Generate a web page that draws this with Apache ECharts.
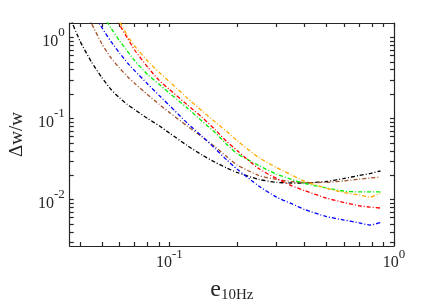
<!DOCTYPE html>
<html>
<head>
<meta charset="utf-8">
<script src="https://cdn.jsdelivr.net/npm/echarts@6/dist/echarts.min.js"></script>
<style>
html,body{margin:0;padding:0;background:#fff;}
#chart{width:436px;height:308px;}
</style>
</head>
<body>
<div id="chart"></div>
<script>
// e_10Hz sample positions (shared by all curves)
var eValues = [0.036, 0.04, 0.045, 0.05, 0.055, 0.06, 0.065, 0.07, 0.08, 0.09, 0.1, 0.12, 0.14, 0.16, 0.18, 0.2, 0.25, 0.3, 0.35, 0.4, 0.5, 0.6, 0.7, 0.78, 0.87];
// Δw/w for each curve
var blackDw  = [1.79, 0.905, 0.498, 0.321, 0.228, 0.180, 0.149, 0.129, 0.100, 0.0815, 0.0662, 0.0464, 0.0354, 0.0288, 0.0245, 0.0216, 0.0177, 0.0163, 0.0160, 0.0160, 0.0167, 0.0182, 0.0198, 0.0209, 0.0225];
var brownDw  = [null, 2.9, 1.49, 0.838, 0.558, 0.418, 0.330, 0.272, 0.197, 0.150, 0.119, 0.0808, 0.0591, 0.0445, 0.0340, 0.0268, 0.0198, 0.0177, 0.0167, 0.0162, 0.0163, 0.0170, 0.0178, 0.0184, 0.0190];
var blueDw   = [null, null, 2.15, 1.33, 0.887, 0.644, 0.487, 0.390, 0.267, 0.193, 0.145, 0.0880, 0.0600, 0.0424, 0.0309, 0.0238, 0.0147, 0.0107, 0.00888, 0.00753, 0.00617, 0.00558, 0.00516, 0.00484, 0.00520];
var greenDw  = [null, null, null, 1.96, 1.30, 0.912, 0.681, 0.520, 0.349, 0.265, 0.206, 0.135, 0.0923, 0.0668, 0.0479, 0.0370, 0.0263, 0.0206, 0.0177, 0.0158, 0.0139, 0.0127, 0.0124, 0.0124, 0.0124];
var redDw    = [null, null, null, null, 2.12, 1.43, 0.986, 0.701, 0.432, 0.296, 0.229, 0.148, 0.103, 0.0725, 0.0521, 0.0403, 0.0241, 0.0182, 0.0148, 0.0129, 0.0104, 0.00918, 0.00838, 0.00807, 0.00785];
var orangeDw = [null, null, null, null, 2.39, 1.56, 1.06, 0.785, 0.513, 0.372, 0.286, 0.179, 0.124, 0.0905, 0.0691, 0.0535, 0.0330, 0.0248, 0.0201, 0.0168, 0.0138, 0.0122, 0.0114, 0.0107, 0.0120];
// axis ticks and labels
var xTicks = [0.04, 0.05, 0.06, 0.07, 0.08, 0.09, 0.1, 0.2, 0.3, 0.4, 0.5, 0.6, 0.7, 0.8, 0.9, 1];
var yTicks = [0.003, 0.004, 0.005, 0.006, 0.007, 0.008, 0.009, 0.01, 0.02, 0.03, 0.04, 0.05, 0.06, 0.07, 0.08, 0.09, 0.1, 0.2, 0.3, 0.4, 0.5, 0.6, 0.7, 0.8, 0.9, 1];
var xLabels = [0.1, 1];
var yLabels = [0.01, 0.1, 1];

var serifFont = '"Liberation Serif", "Times New Roman", serif';
var axisColor = '#262626';

function pairs(vals) {
  var out = [];
  for (var i = 0; i < eValues.length; i++) {
    if (vals[i] != null) out.push([eValues[i], vals[i]]);
  }
  return out;
}
function powLabel(v) {
  var p = Math.round(Math.log10(v));
  return '{b|10}{s|' + p + '}';
}
var labelRich = {
  b: {fontSize: 16, lineHeight: 16, padding: [8, 0, 0, 0], fontFamily: serifFont, color: axisColor},
  s: {fontSize: 13, lineHeight: 13, padding: [0, 0, 9, 0], fontFamily: serifFont, color: axisColor}
};

function makeAxis(pos, min, max, ticks, labels, showLabel, extra) {
  var ax = {
    type: 'log',
    logBase: 10,
    position: pos,
    min: min,
    max: max,
    splitLine: {show: false},
    axisLine: {show: true, onZero: false, lineStyle: {color: axisColor, width: 1.2}},
    axisTick: {show: true, inside: true, length: 4, customValues: ticks, lineStyle: {color: axisColor, width: 1.2}},
    minorTick: {show: false},
    axisLabel: {show: showLabel, customValues: labels, formatter: powLabel, rich: labelRich, margin: 5, color: axisColor}
  };
  if (extra) for (var k in extra) ax[k] = extra[k];
  return ax;
}

var colors = ['#000000', '#A5522A', '#0000FF', '#00EE00', '#FF0000', '#FFAA00'];
var curves = [blackDw, brownDw, blueDw, greenDw, redDw, orangeDw];
var series = curves.map(function (c, i) {
  return {
    type: 'line',
    data: pairs(c),
    showSymbol: false,
    smooth: 0.2,
    clip: true,
    lineStyle: {color: colors[i], width: 1.3, type: [4, 2, 1, 2]},
    itemStyle: {color: colors[i]},
    animation: false
  };
});

var chart = echarts.init(document.getElementById('chart'), null, {renderer: 'canvas'});
chart.setOption({
  animation: false,
  backgroundColor: '#ffffff',
  grid: {left: 58, right: 42, top: 23, bottom: 62, containLabel: false},
  xAxis: [
    makeAxis('bottom', 0.036, 1, xTicks, xLabels, true, {
      name: '{e|e}{s|10Hz}',
      nameLocation: 'middle',
      nameGap: 32,
      nameTextStyle: {
        rich: {
          e: {fontSize: 24, lineHeight: 24, fontFamily: serifFont, color: axisColor},
          s: {fontSize: 15, lineHeight: 15, padding: [11, 0, 0, 0], fontFamily: serifFont, color: axisColor}
        }
      }
    }),
    makeAxis('top', 0.036, 1, xTicks, xLabels, false)
  ],
  yAxis: [
    makeAxis('left', 0.00267, 1.51, yTicks, yLabels, true, {
      name: 'Δw/w',
      nameLocation: 'middle',
      nameRotate: 90,
      nameGap: 42,
      nameTextStyle: {fontSize: 19, fontFamily: serifFont, color: axisColor}
    }),
    makeAxis('right', 0.00267, 1.51, yTicks, yLabels, false)
  ],
  series: series
});
</script>
</body>
</html>
